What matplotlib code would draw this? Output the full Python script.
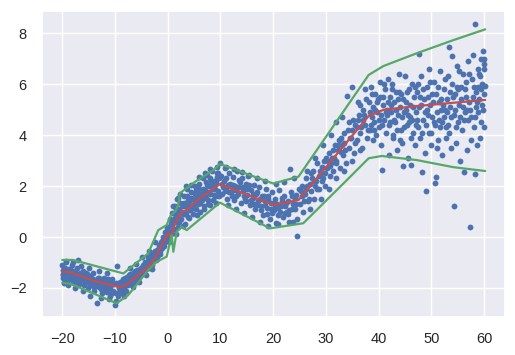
import numpy as np
import matplotlib
matplotlib.use("Agg")
import matplotlib.pyplot as plt
import seaborn as sns

BLUE, GREEN, RED = "#4C72B0", "#55A868", "#C44E52"

# ── scatter points, grouped by x range ──────────────────────────────────────
x_a = [-20.0, -19.9, -19.8, -19.7, -19.5, -19.4, -19.2, -19.0, -18.9, -18.7, -18.5, -18.3, -18.1,
       -17.9, -17.7, -17.4, -17.2, -17.0, -16.8, -16.5, -16.3, -16.1, -15.9, -15.6, -15.4, -15.1,
       -14.9, -14.7, -14.4, -14.2, -14.0, -13.7, -13.5, -13.3, -13.0, -12.8, -12.5, -12.3, -12.0,
       -11.8, -11.5, -11.3, -11.0, -10.8, -10.5, -10.3, -10.0, -9.8, -9.5, -9.3, -9.0,
       -19.95, -19.6, -19.3, -18.8, -18.4, -17.8, -17.3, -16.7, -16.2, -15.7, -15.2, -14.6, -14.1,
       -13.6, -13.1, -12.6, -12.1, -11.6, -11.1, -10.6, -10.1, -9.6, -9.2,
       -19.85, -19.45, -19.05, -18.6, -18.2, -17.6, -17.1, -16.6, -16.0, -15.5, -15.0, -14.5,
       -13.9, -13.4, -12.9, -12.4, -11.9, -11.4, -10.9, -10.4, -9.9, -9.4, -9.1,
       -19.3, -18.0, -16.5, -15.0, -13.0, -11.5, -19.0, -17.5, -16.0, -14.8, -12.7, -11.2, -9.9]
y_a = [-1.1, -1.6, -1.3, -1.8, -1.2, -1.5, -1.0, -1.7, -1.35, -1.25, -1.6, -1.45, -1.1,
       -1.75, -1.4, -1.55, -1.2, -0.9, -1.85, -1.5, -1.7, -1.35, -1.9, -1.6, -1.45, -2.0,
       -1.7, -1.55, -1.85, -1.4, -2.1, -1.75, -2.58, -1.6, -1.95, -1.7, -2.2, -1.85, -1.6,
       -2.0, -2.15, -1.75, -2.3, -1.9, -1.65, -2.1, -2.67, -1.8, -2.3, -1.95, -2.1,
       -1.5, -1.25, -1.7, -1.5, -1.3, -1.6, -1.75, -1.4, -1.55, -1.75, -1.5, -1.9, -1.65,
       -1.85, -1.6, -2.05, -1.75, -1.9, -1.8, -2.2, -1.85, -1.14, -2.0,
       -1.45, -1.75, -1.3, -1.6, -1.55, -1.35, -1.5, -1.7, -1.45, -1.4, -1.8, -1.6,
       -1.95, -1.7, -1.8, -1.9, -2.1, -1.65, -2.05, -1.8, -2.2, -1.85, -1.75,
       -0.95, -1.0, -1.15, -1.2, -1.35, -1.4, -1.9, -2.0, -2.1, -2.3, -2.4, -2.45, -2.5]

x_b = [-8.9, -8.7, -8.5, -8.3, -8.1, -7.9, -7.7, -7.5, -7.3, -7.1, -6.9, -6.7, -6.5, -6.3, -6.1,
       -5.9, -5.7, -5.5, -5.3, -5.1, -4.9, -4.7, -4.5, -4.3, -4.1, -3.9, -3.7, -3.5, -3.3, -3.1,
       -2.9, -2.7, -2.5, -2.3, -2.1, -1.9, -1.7, -1.5, -1.3, -1.1, -0.9, -0.7, -0.5, -0.3, -0.1,
       -8.8, -8.2, -7.6, -7.0, -6.4, -5.8, -5.2, -4.6, -4.0, -3.4, -2.8, -2.2, -1.6, -1.0, -0.4,
       -8.6, -8.0, -7.4, -6.8, -6.2, -5.6, -5.0, -4.4, -3.8, -3.2, -2.6, -2.0, -1.4, -0.8, -0.2,
       -7.2, -6.0, -4.8, -3.6, -2.4, -8.3, -6.6, -5.4, -4.2, -3.0]
y_b = [-1.8, -2.2, -1.65, -2.0, -1.75, -2.1, -1.55, -1.9, -1.7, -1.45, -1.85, -1.6, -1.4, -1.75, -1.5,
       -1.3, -1.6, -1.35, -1.5, -1.2, -1.4, -1.1, -1.35, -1.0, -1.25, -1.05, -0.8, -1.2, -0.95, -0.7,
       -1.1, -0.75, -0.55, -0.9, -0.5, -0.7, -0.3, -0.55, -0.2, -0.45, 0.0, -0.25, 0.2, -0.1, 0.35,
       -1.95, -1.6, -1.85, -1.55, -1.6, -1.45, -1.25, -1.3, -1.15, -0.9, -0.85, -0.7, -0.4, -0.15, 0.05,
       -2.05, -1.9, -1.5, -1.75, -1.35, -1.5, -1.45, -1.15, -0.95, -1.05, -0.6, -0.85, -0.65, -0.35, 0.25,
       -1.2, -1.05, -0.8, -0.55, -0.2, -2.3, -1.95, -1.75, -1.5, -1.25]

x_c = [0.1, 0.3, 0.5, 0.7, 0.9, 1.1, 1.3, 1.5, 1.7, 1.9, 2.1, 2.3, 2.5, 2.7, 2.9, 3.1, 3.3, 3.5,
       3.7, 3.9, 4.1, 4.3, 4.5, 4.7, 4.9, 5.1, 5.3, 5.5, 5.7, 5.9, 6.1, 6.3, 6.5, 6.7, 6.9, 7.1,
       7.3, 7.5, 7.7, 7.9, 8.1, 8.3, 8.5, 8.7, 8.9, 9.1, 9.3, 9.5, 9.7, 9.9,
       0.2, 0.6, 1.0, 1.4, 1.8, 2.2, 2.6, 3.0, 3.4, 3.8, 4.2, 4.6, 5.0, 5.4, 5.8, 6.2, 6.6,
       7.0, 7.4, 7.8, 8.2, 8.6, 9.0, 9.4, 9.8,
       0.4, 0.8, 1.2, 1.6, 2.0, 2.4, 2.8, 3.2, 3.6, 4.0, 4.4, 4.8, 5.2, 5.6, 6.0, 6.4, 6.8,
       7.2, 7.6, 8.0, 8.4, 8.8, 9.2, 9.6,
       1.0, 2.0, 3.5, 4.5, 6.0, 7.0, 8.0, 9.3, 1.5, 2.8, 4.0, 5.5, 6.8, 8.0, 9.1]
y_c = [0.4, -0.2, 0.7, 0.1, 0.95, 0.3, 1.2, 0.6, 1.5, 0.4, 1.1, 1.7, 0.7, 1.3, 0.9, 1.6, 0.5, 1.2,
       1.9, 0.8, 1.4, 1.05, 1.75, 0.9, 1.5, 2.0, 1.1, 1.6, 1.3, 2.1, 1.0, 1.7, 1.45, 2.3, 1.2, 1.85,
       1.55, 2.45, 1.3, 2.0, 1.7, 2.6, 1.45, 2.2, 1.9, 1.6, 2.5, 1.8, 2.3, 2.92,
       0.0, 0.5, 0.3, 0.9, 1.0, 0.6, 1.0, 1.35, 0.95, 1.45, 1.2, 1.5, 1.3, 1.85, 1.7, 1.35, 1.9,
       1.6, 2.05, 1.75, 2.2, 1.9, 2.1, 2.35, 1.6,
       0.2, 0.6, 0.7, 1.1, 0.8, 1.35, 1.2, 0.9, 1.6, 1.25, 1.55, 1.15, 1.7, 1.4, 1.9, 1.55, 1.75,
       2.15, 1.45, 2.3, 2.0, 1.65, 2.15, 2.5,
       1.2, 1.55, 2.0, 2.05, 2.35, 2.5, 2.65, 2.75, 0.1, 0.45, 0.75, 0.85, 1.1, 1.25, 1.35]

x_d = [10.1, 10.3, 10.6, 10.8, 11.1, 11.3, 11.6, 11.8, 12.1, 12.3, 12.6, 12.8, 13.1, 13.3, 13.6,
       13.8, 14.1, 14.3, 14.6, 14.8, 15.1, 15.3, 15.6, 15.8, 16.1, 16.3, 16.6, 16.8, 17.1, 17.3,
       17.6, 17.8, 18.1, 18.3, 18.6, 18.8, 19.1, 19.3, 19.6, 19.8, 20.1, 20.3, 20.6, 20.8, 21.1,
       21.3, 21.6, 21.8, 22.1, 22.3, 22.6, 22.8, 23.1, 23.3, 23.6, 23.8, 24.1, 24.3, 24.6, 24.8,
       10.4, 11.0, 11.7, 12.4, 13.0, 13.7, 14.4, 15.0, 15.7, 16.4, 17.0, 17.7, 18.4, 19.0, 19.7,
       20.4, 21.0, 21.7, 22.4, 23.0, 23.7, 24.4,
       10.2, 10.9, 11.5, 12.2, 12.9, 13.5, 14.2, 14.9, 15.5, 16.2, 16.9, 17.5, 18.2, 18.9, 19.5,
       20.2, 20.9, 21.5, 22.2, 22.9, 23.5, 24.2,
       11.0, 12.5, 14.0, 15.5, 17.0, 18.5, 20.5, 22.0, 24.0,
       11.5, 13.0, 14.5, 16.0, 17.5, 19.0, 21.0, 23.0, 24.5]
y_d = [2.4, 1.7, 2.2, 2.7, 1.9, 1.5, 2.5, 2.1, 1.8, 2.35, 1.45, 2.0, 2.6, 1.7, 1.95,
       1.35, 2.3, 1.8, 1.5, 2.1, 1.65, 2.4, 1.25, 1.85, 1.55, 2.05, 1.1, 1.7, 1.4, 1.95,
       1.2, 1.6, 0.85, 1.45, 1.9, 1.15, 1.6, 0.7, 1.35, 1.75, 1.05, 1.5, 0.55, 1.3, 1.85,
       1.0, 1.4, 0.8, 1.6, 1.2, 1.0, 0.9, 2.66, 1.75, 1.1, 0.6, 1.55, 1.3, 0.04, 1.9,
       1.95, 2.3, 1.75, 2.05, 1.6, 2.15, 1.6, 1.9, 1.45, 1.3, 1.75, 1.05, 1.25, 1.5, 0.95,
       1.2, 1.15, 1.55, 1.35, 1.05, 1.3, 1.65,
       2.1, 1.8, 2.05, 1.6, 1.85, 2.25, 1.95, 1.4, 2.05, 1.7, 1.25, 1.5, 1.6, 0.9, 1.1,
       1.35, 0.85, 1.2, 0.95, 1.4, 1.6, 1.1,
       2.75, 2.65, 2.55, 2.45, 2.3, 2.2, 2.1, 2.15, 2.3,
       1.25, 1.1, 0.95, 0.8, 0.6, 0.45, 0.5, 0.6, 0.7]

x_e = [25.1, 25.4, 25.7, 26.0, 26.3, 26.6, 26.9, 27.2, 27.5, 27.8, 28.1, 28.4, 28.7, 29.0, 29.3,
       29.6, 29.9, 30.2, 30.5, 30.8, 31.1, 31.4, 31.7, 32.0, 32.3, 32.6, 32.9, 33.2, 33.5, 33.8,
       34.1, 34.4, 34.7, 35.0, 35.3, 35.6, 35.9, 36.2, 36.5, 36.8, 37.1, 37.4, 37.7,
       25.5, 26.2, 26.8, 27.4, 28.0, 28.6, 29.2, 29.8, 30.4, 31.0, 31.6, 32.2, 32.8, 33.4, 34.0,
       34.6, 35.2, 35.8, 36.4, 37.0, 37.6,
       25.3, 25.9, 26.5, 27.1, 27.7, 28.3, 28.9, 29.5, 30.1, 30.7, 31.3, 31.9, 32.5, 33.1, 33.7,
       34.3, 34.9, 35.5, 36.1, 36.7, 37.3, 37.9,
       26.5, 28.0, 29.5, 31.0, 32.0, 33.0, 36.0, 37.5,
       27.0, 29.0, 30.5, 32.0, 33.5, 35.0, 36.5]
y_e = [1.3, 2.0, 1.0, 1.7, 2.3, 1.4, 2.1, 1.8, 2.6, 1.5, 2.2, 2.9, 1.9, 2.5, 2.2,
       3.0, 2.0, 2.7, 3.3, 2.4, 3.1, 2.6, 3.6, 2.9, 3.4, 2.7, 3.9, 3.2, 3.7, 2.9,
       4.2, 3.5, 3.9, 5.88, 3.3, 4.4, 3.8, 4.8, 4.1, 3.5, 5.0, 4.4, 3.9,
       1.6, 1.9, 1.5, 2.3, 2.0, 2.4, 2.75, 2.5, 3.0, 2.9, 3.1, 3.6, 3.35, 4.1, 5.54,
       3.9, 4.6, 4.3, 5.2, 4.6, 5.4,
       1.8, 1.4, 2.0, 2.5, 2.2, 1.9, 2.6, 2.3, 3.1, 2.8, 3.4, 3.0, 3.8, 3.6, 3.4,
       4.5, 4.2, 3.7, 4.6, 4.3, 4.8, 4.2,
       2.6, 3.1, 3.6, 4.0, 4.5, 4.7, 5.3, 5.8,
       1.1, 1.5, 1.9, 2.3, 2.6, 3.0, 3.4]

x_f = [38.2, 38.4, 38.5, 38.7, 38.9, 39.0, 39.2, 39.4, 39.5, 39.7, 39.9, 40.0, 40.2, 40.4, 40.5,
       40.7, 40.8, 41.0, 41.2, 41.3, 41.5, 41.7, 41.9, 42.0, 42.2, 42.4,
       42.6, 42.8, 42.9, 43.1, 43.3, 43.5, 43.6, 43.8, 44.0, 44.2, 44.3, 44.5, 44.7, 44.8, 45.0,
       45.2, 45.4, 45.5, 45.7, 45.9, 46.0, 46.2, 46.4, 46.5, 46.7, 46.9, 47.0,
       47.2, 47.4, 47.6, 47.7, 47.9, 48.1, 48.2, 48.4, 48.6, 48.8, 49.0, 49.1, 49.3, 49.5, 49.6,
       49.8, 50.0, 50.2, 50.4, 50.5, 50.6, 50.9, 51.0, 51.2, 51.4, 51.6, 51.7, 51.9,
       52.1, 52.3, 52.4, 52.6, 52.8, 53.0, 53.1, 53.4, 53.5, 53.7, 53.9, 54.0, 54.2, 54.3, 54.5,
       54.7, 54.9, 55.0, 55.2, 55.4, 55.6, 55.8, 56.0, 56.1, 56.3, 56.5, 56.7, 56.9, 57.0,
       57.2, 57.4, 57.5, 57.7, 57.9, 58.0, 58.2, 58.3, 58.4, 58.6, 58.8, 58.9, 59.1, 59.2, 59.4,
       59.5, 59.6, 59.7, 59.8, 59.9, 60.0, 60.0, 60.1, 59.3, 58.5,
       38.6, 39.3, 40.1, 40.9, 41.6, 42.3, 43.0, 43.7, 44.4, 45.1, 45.8, 46.6, 47.3, 48.0, 48.7,
       49.4, 50.1, 50.8, 51.5, 52.2, 52.9, 53.6, 54.4, 55.1, 55.9, 56.6, 57.3, 58.1, 58.7, 59.4,
       53.3, 55.5, 57.6, 46.1, 49.9, 51.1, 44.1, 42.7,
       38.3, 38.8, 39.1, 39.6, 40.3, 40.6, 41.1, 41.4, 41.8, 42.1, 42.5, 43.2, 43.4, 43.9, 44.6,
       44.9, 45.3, 45.6, 46.3, 46.8, 47.1, 47.5, 47.8, 48.3, 48.5, 48.9, 49.2, 49.7, 50.3, 50.7,
       51.3, 51.8, 52.0, 52.5, 52.7, 53.2, 53.8, 54.1, 54.6, 54.8, 55.3, 55.7, 56.2, 56.4, 56.8,
       57.1, 57.8, 58.3, 58.9, 59.0, 59.6, 59.9, 60.0]
y_f = [5.3, 4.2, 5.9, 4.7, 3.8, 5.1, 4.5, 5.6, 4.0, 4.9, 5.4, 4.3, 6.1, 4.8, 3.6,
       2.63, 5.2, 4.6, 5.8, 4.1, 5.0, 6.2, 4.4, 3.2, 5.5, 4.9,
       6.0, 3.9, 5.3, 4.5, 5.7, 3.4, 4.8, 6.4, 5.1, 4.2, 5.6, 3.7, 2.78, 4.9, 6.3,
       5.3, 4.4, 3.1, 5.8, 4.7, 5.2, 2.82, 6.0, 4.1, 5.5, 3.6, 4.9,
       5.7, 4.3, 7.17, 5.1, 3.9, 6.3, 2.54, 4.6, 5.4, 3.3, 1.79, 5.9, 4.8, 6.6, 4.1,
       5.2, 3.6, 5.6, 4.5, 6.1, 2.11, 2.34, 4.9, 3.8, 5.3, 6.5, 4.3, 5.0,
       3.2, 5.8, 4.7, 6.2, 3.9, 5.4, 4.4, 7.45, 5.1, 3.5, 6.0, 7.09, 1.22, 4.8, 5.6,
       3.7, 6.7, 4.5, 5.2, 3.0, 5.9, 4.2, 6.4, 2.54, 4.9, 5.5, 3.4, 6.9, 4.6,
       5.3, 0.39, 3.8, 6.2, 7.15, 4.3, 2.46, 8.35, 5.7, 3.6, 6.6, 4.9, 5.4, 3.9, 7.0,
       4.5, 6.0, 7.3, 5.0, 4.31, 6.8, 5.6, 5.94, 6.3, 5.1,
       4.4, 5.0, 4.6, 5.5, 4.8, 5.2, 4.6, 5.4, 4.7, 5.0, 4.5, 5.1, 4.6, 5.2, 4.9,
       5.5, 4.7, 5.6, 4.6, 5.2, 4.9, 5.7, 5.0, 5.8, 5.1, 6.1, 5.0, 5.9, 5.3, 5.8,
       4.1, 4.7, 4.7, 3.9, 4.1, 3.5, 3.8, 4.0,
       4.9, 5.6, 4.2, 5.3, 5.5, 4.4, 6.0, 4.9, 5.3, 4.5, 5.8, 5.0, 4.2, 5.7, 5.4,
       4.3, 5.7, 4.8, 4.6, 5.9, 4.4, 6.0, 5.5, 4.1, 5.8, 4.4, 5.0, 6.1, 5.3, 4.4,
       5.9, 5.4, 4.5, 5.0, 4.3, 6.3, 4.7, 5.5, 4.3, 5.9, 6.5, 5.4, 4.6, 5.8, 5.0,
       6.4, 5.5, 4.7, 5.9, 6.4, 5.2, 6.6, 7.0]

# ── fitted lines (median in red, upper / lower band in green) ───────────────
med_x = [-20, -18.5, -14, -9.05, -8, -3.7, -2.4, -1.5, 0.1, 0.6, 1.4, 2.65, 3.6, 6.1, 9.9,
         20, 24.8, 38.1, 40.9, 47.2, 60.2]
med_y = [-1.36, -1.38, -1.72, -1.97, -1.9, -1.17, -0.84, -0.44, 0.15, 0.0, 0.54, 1.0, 1.06, 1.52,
         2.08, 1.26, 1.45, 4.75, 4.99, 5.14, 5.38]

up_x = [-20, -18, -8.4, -3.7, -1.8, -0.2, 0.6, 1.4, 2.0, 2.3, 5.2, 8.7, 9.9, 15.6, 20, 24.8,
        38.1, 40.9, 47.2, 54.2, 60.2]
up_y = [-0.9, -0.9, -1.43, -0.64, 0.27, 0.47, 0.86, 1.0, 1.26, 1.72, 2.17, 2.63, 2.87, 2.43,
        2.1, 2.37, 6.36, 6.71, 7.21, 7.73, 8.15]

lo_x = [-20, -18.3, -9.7, -7.5, -3.7, -2.1, -0.2, 0.75, 1.06, 1.7, 2.65, 3.6, 9.9, 19.4,
        25.7, 34, 38.1, 40.6, 47.2, 54.2, 60.2]
lo_y = [-1.79, -1.85, -2.6, -2.28, -1.3, -0.97, -0.77, 0.08, -0.58, 0.21, 0.4, 0.27, 1.35,
        0.34, 0.54, 2.24, 3.09, 3.18, 3.02, 2.74, 2.59]

sns.set_theme(style="darkgrid")
plt.rcParams["font.family"] = ["Liberation Sans", "DejaVu Sans"]

fig = plt.figure(figsize=(5.15, 3.55), dpi=100)
ax = fig.add_axes([0.081, 0.107, 0.9, 0.862])

x_all = np.concatenate([x_a, x_b, x_c, x_d, x_e, x_f])
y_all = np.concatenate([y_a, y_b, y_c, y_d, y_e, y_f])
ax.plot(x_all, y_all, "o", color=BLUE, ms=4.2, mew=0)

ax.plot(med_x, med_y, color=RED, lw=1.6)
ax.plot(up_x, up_y, color=GREEN, lw=1.6)
ax.plot(lo_x, lo_y, color=GREEN, lw=1.6)

ax.set_xlim(-23.9, 64.0)
ax.set_ylim(-3.14, 8.87)
ax.set_xticks(np.arange(-20, 61, 10))
ax.set_yticks(np.arange(-2, 9, 2))
ax.tick_params(labelsize=10.5, pad=5)

fig.savefig("out.png", dpi=100)
